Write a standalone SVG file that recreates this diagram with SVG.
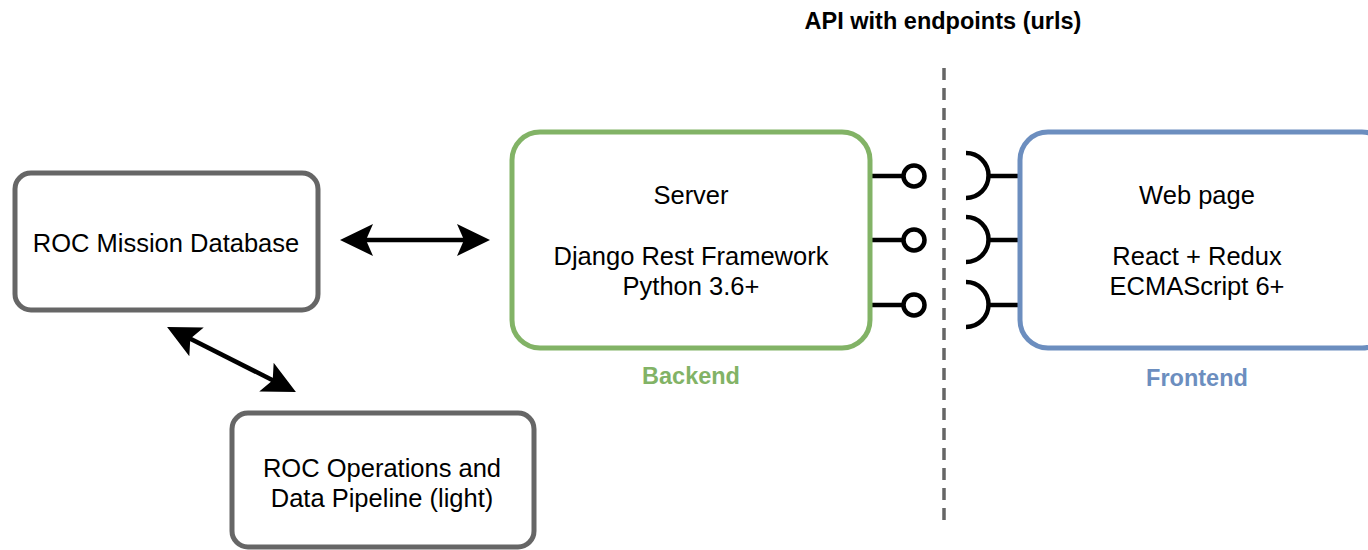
<svg xmlns="http://www.w3.org/2000/svg" width="1368" height="550" viewBox="0 0 1368 550">
<style>
text{font-family:"Liberation Sans",Arial,sans-serif;font-size:25.5px;fill:#000;text-anchor:middle}
.b{font-weight:bold;font-size:23.5px}
.box{fill:#fff;stroke-width:5}
.g{stroke:#666}
.conn{stroke:#000;stroke-width:4.5;fill:none}
</style>
<defs>
<marker id="ah" markerUnits="userSpaceOnUse" viewBox="-34 -17 36 34" refX="-10" refY="0" markerWidth="36" markerHeight="34" orient="auto-start-reverse">
<path d="M0,0 L-33,-16 L-26,0 L-33,16 Z" fill="#000"/>
</marker>
</defs>
<rect width="1368" height="550" fill="#fff"/>
<text class="b" x="943" y="29">API with endpoints (urls)</text>
<g id="connectors">
<line x1="944" y1="68" x2="944" y2="522" stroke="#666" stroke-width="3.5" stroke-dasharray="12 8"/>
<line class="conn" x1="350" y1="240" x2="480" y2="240" marker-start="url(#ah)" marker-end="url(#ah)"/>
<line class="conn" x1="176" y1="331.5" x2="287" y2="387.5" marker-start="url(#ah)" marker-end="url(#ah)"/>
<g class="conn">
<line x1="872" y1="176" x2="903" y2="176"/>
<circle cx="914" cy="176" r="10.5"/>
<line x1="872" y1="240" x2="903" y2="240"/>
<circle cx="914" cy="240" r="10.5"/>
<line x1="872" y1="305" x2="903" y2="305"/>
<circle cx="914" cy="305" r="10.5"/>
<path d="M966,153 A22,22 0 0 1 966,198"/>
<line x1="988" y1="176" x2="1019" y2="176"/>
<path d="M966,217 A22,22 0 0 1 966,262"/>
<line x1="988" y1="240" x2="1019" y2="240"/>
<path d="M966,282 A22,22 0 0 1 966,327"/>
<line x1="988" y1="305" x2="1019" y2="305"/>
</g>
</g>
<g id="mission-db">
<rect class="box g" x="15" y="173" width="303" height="137" rx="16"/>
<text x="166" y="252">ROC Mission Database</text>
</g>
<g id="operations">
<rect class="box g" x="232" y="413" width="302" height="134" rx="16"/>
<text x="382" y="477">ROC Operations and</text>
<text x="382" y="507">Data Pipeline (light)</text>
</g>
<g id="server">
<rect class="box" stroke="#82b366" x="512" y="132" width="358" height="216" rx="28"/>
<text x="691" y="204">Server</text>
<text x="691" y="265">Django Rest Framework</text>
<text x="691" y="295">Python 3.6+</text>
<text class="b" x="691" y="384" style="fill:#82b366">Backend</text>
</g>
<g id="webpage">
<rect class="box" stroke="#6c8ebf" x="1020" y="132" width="370" height="216" rx="28"/>
<text x="1197" y="204">Web page</text>
<text x="1197" y="265">React + Redux</text>
<text x="1197" y="295">ECMAScript 6+</text>
<text class="b" x="1197" y="386" style="fill:#6c8ebf">Frontend</text>
</g>
</svg>
